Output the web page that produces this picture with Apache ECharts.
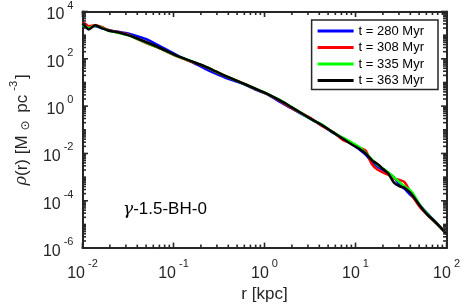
<!DOCTYPE html>
<html>
<head>
<meta charset="utf-8">
<script src="https://cdn.jsdelivr.net/npm/echarts@6/dist/echarts.min.js"></script>
<style>
html,body{margin:0;padding:0;background:#fff;}
#chart{width:463px;height:308px;}
</style>
</head>
<body>
<div id="chart"></div>
<script>
// radius grid (kpc), shared by all snapshots
const radius = [0.0100,0.0110,0.0117,0.0138,0.0162,0.0191,0.0245,0.0316,0.0407,0.0525,0.0676,0.110,0.162,0.224,0.288,0.372,0.562,0.794,1.10,1.48,1.95,3.24,4.37,5.62,7.41,8.91,11.2,12.9,15.1,17.4,20.4,22.9,26.3,30.2,34.7,39.8,44.7,51.3,60.3,70.8,83.2,100];

const seriesNames = ['t = 280 Myr','t = 308 Myr','t = 335 Myr','t = 363 Myr'];

const rho280 = [2.82e3,2.51e3,2.24e3,2.40e3,2.00e3,1.66e3,1.38e3,1.17e3,891,631,380,141,70.8,38.0,24.0,15.8,9.12,5.01,3.02,1.51,0.832,0.282,0.145,0.0759,0.0417,0.0263,0.0141,8.91e-3,4.47e-3,2.82e-3,1.91e-3,1.48e-3,1.00e-3,5.01e-4,3.16e-4,1.82e-4,1.20e-4,6.31e-5,3.16e-5,1.66e-5,8.71e-6,3.98e-6];
const rho308 = [3.55e3,2.82e3,2.40e3,2.63e3,2.24e3,1.66e3,1.35e3,1.07e3,661,427,295,126,72.4,45.7,28.8,18.6,9.77,5.37,3.09,1.66,0.871,0.302,0.138,0.0832,0.0355,0.0282,0.0174,0.0132,3.55e-3,2.09e-3,1.51e-3,1.26e-3,8.91e-4,7.59e-4,6.03e-4,2.40e-4,1.12e-4,5.25e-5,2.75e-5,1.51e-5,8.32e-6,3.98e-6];
const rho335 = [2.63e3,2.24e3,2.00e3,2.51e3,2.09e3,1.58e3,1.26e3,1.00e3,676,447,302,129,75.9,46.8,29.5,19.1,9.55,5.50,3.16,1.78,0.955,0.282,0.158,0.0794,0.0447,0.0302,0.0178,0.0105,5.62e-3,3.31e-3,2.19e-3,1.58e-3,1.00e-3,6.31e-4,3.98e-4,2.82e-4,1.58e-4,6.31e-5,3.02e-5,1.58e-5,8.51e-6,3.98e-6];
const rho363 = [3.16e3,2.14e3,1.74e3,2.63e3,2.00e3,1.58e3,1.32e3,1.00e3,708,479,316,132,75.9,46.8,30.2,19.1,9.55,5.50,3.16,1.74,0.933,0.288,0.151,0.0794,0.0398,0.0251,0.0151,0.0100,5.25e-3,3.55e-3,2.09e-3,1.41e-3,6.03e-4,4.17e-4,3.47e-4,2.24e-4,1.26e-4,6.03e-5,2.82e-5,1.58e-5,8.51e-6,3.98e-6];

const xMajorTicks = [0.01,0.1,1,10,100];
const yMajorTicks = [1e-6,1e-4,1e-2,1,1e2,1e4];

const seriesColors = ['#0000ff','#ff0000','#00ff00','#000000'];

function minorList(lo, hi, skipMajor) {
  const out = [];
  for (let e = lo; e < hi; e++) {
    for (let m = 1; m <= 9; m++) {
      if (m === 1 && skipMajor.some(t => Math.abs(Math.log10(t) - e) < 1e-9)) continue;
      out.push(Number((m * Math.pow(10, e)).toPrecision(6)));
    }
  }
  return out;
}
const xMinorTicks = minorList(-2, 2, xMajorTicks);
const yMinorTicks = minorList(-6, 4, yMajorTicks);

const FONT = 'Liberation Sans';
const AX = '#262626';

function expLabel(v) {
  const e = Math.round(Math.log10(v));
  return '{b|10}{s|' + e + '}';
}
const labelRich = {
  b: {fontFamily: FONT, fontSize: 16, color: AX, padding: [7, 0, 0, 0]},
  s: {fontFamily: FONT, fontSize: 11, color: AX, padding: [0, 0, 0, 3], verticalAlign: 'top'}
};

const lineStyleAx = {show: true, onZero: false, lineStyle: {color: AX, width: 2}};
const xAxes = [
  {
    type: 'log', logBase: 10, min: 0.01, max: 100, position: 'bottom',
    splitLine: {show: false}, axisTick: {show: false},
    axisLine: lineStyleAx,
    axisLabel: {show: true, customValues: xMajorTicks, margin: 10, formatter: expLabel, rich: labelRich},
    name: 'r [kpc]', nameLocation: 'middle', nameGap: 35,
    nameTextStyle: {fontFamily: FONT, fontSize: 17, color: AX}
  },
  {
    type: 'log', logBase: 10, min: 0.01, max: 100, position: 'top',
    splitLine: {show: false}, axisTick: {show: false}, axisLabel: {show: false},
    axisLine: lineStyleAx
  }
];
const yAxes = [
  {
    type: 'log', logBase: 10, min: 1e-6, max: 1e4, position: 'left',
    splitLine: {show: false}, axisTick: {show: false},
    axisLine: lineStyleAx,
    axisLabel: {show: true, customValues: yMajorTicks, margin: 9, formatter: expLabel, rich: labelRich},
    name: '{r|ρ}{n|(r) [M}{sub|⊙}{n| pc}{sup|-3}{n|]}',
    nameLocation: 'middle', nameGap: 48,
    nameTextStyle: {
      fontFamily: FONT, fontSize: 17, color: AX,
      rich: {
        r: {fontFamily: 'DejaVu Serif', fontStyle: 'italic', fontSize: 16, color: AX, padding: [4, 0, 0, 0]},
        n: {fontFamily: FONT, fontSize: 17, color: AX, padding: [4, 0, 0, 0]},
        sub: {fontFamily: 'DejaVu Sans', fontSize: 12, color: AX, padding: [12, 3, 0, 5], verticalAlign: 'bottom'},
        sup: {fontFamily: FONT, fontSize: 11, color: AX, padding: [0, 2, 10, 4], verticalAlign: 'top'}
      }
    }
  },
  {
    type: 'log', logBase: 10, min: 1e-6, max: 1e4, position: 'right',
    splitLine: {show: false}, axisTick: {show: false}, axisLabel: {show: false},
    axisLine: lineStyleAx
  }
];

const rhoSets = [rho280, rho308, rho335, rho363];
const series = rhoSets.map((arr, i) => ({
  name: seriesNames[i],
  type: 'line',
  xAxisIndex: 0, yAxisIndex: 0,
  data: radius.map((r, k) => [r, arr[k]]),
  showSymbol: false, symbol: 'none',
  smooth: 0.3,
  lineStyle: {color: seriesColors[i], width: 2.5},
  itemStyle: {color: seriesColors[i]},
  z: 2 + i,
  animation: false
}));

// Inside tick marks (MATLAB style) drawn through the axes' own scales
function tickSeries(values, isX, len) {
  return {
    type: 'custom', xAxisIndex: 0, yAxisIndex: 0, silent: true, clip: false, z: 20,
    animation: false,
    data: values.map(v => isX ? [v, 1] : [1, v]),
    renderItem: function (params, api) {
      const cs = params.coordSys;
      const p = api.coord([api.value(0), api.value(1)]);
      const st = {stroke: AX, lineWidth: 1.6};
      if (isX) {
        const x = p[0];
        return {type: 'group', children: [
          {type: 'line', shape: {x1: x, y1: cs.y + cs.height, x2: x, y2: cs.y + cs.height - len}, style: st},
          {type: 'line', shape: {x1: x, y1: cs.y, x2: x, y2: cs.y + len}, style: st}
        ]};
      }
      const y = p[1];
      return {type: 'group', children: [
        {type: 'line', shape: {x1: cs.x, y1: y, x2: cs.x + len, y2: y}, style: st},
        {type: 'line', shape: {x1: cs.x + cs.width, y1: y, x2: cs.x + cs.width - len, y2: y}, style: st}
      ]};
    }
  };
}
series.push(tickSeries(xMajorTicks, true, 5.5));
series.push(tickSeries(xMinorTicks, true, 3.5));
series.push(tickSeries(yMajorTicks, false, 5.5));
series.push(tickSeries(yMinorTicks, false, 3.5));

const chart = echarts.init(document.getElementById('chart'), null, {renderer: 'canvas'});
chart.setOption({
  animation: false,
  backgroundColor: '#fff',
  grid: {left: 79, top: 11, right: 15, bottom: 57, containLabel: false},
  xAxis: xAxes,
  yAxis: yAxes,
  legend: {
    orient: 'vertical', right: 25, top: 20, z: 30,
    data: seriesNames,
    icon: 'rect',
    backgroundColor: '#fff', borderColor: AX, borderWidth: 1.5,
    padding: [4, 14, 2, 6], itemGap: 2.5, itemWidth: 36, itemHeight: 3,
    textStyle: {fontFamily: FONT, fontSize: 13, lineHeight: 14, color: '#000'},
    selectedMode: false
  },
  series: series,
  graphic: [{
    type: 'text', left: 123, top: 201,
    style: {
      text: '{g|γ}{t|-1.5-BH-0}',
      rich: {
        g: {fontFamily: 'DejaVu Serif', fontStyle: 'italic', fontSize: 17, fill: '#000'},
        t: {fontFamily: FONT, fontSize: 17, fill: '#000'}
      }
    }
  }]
});
</script>
</body>
</html>
